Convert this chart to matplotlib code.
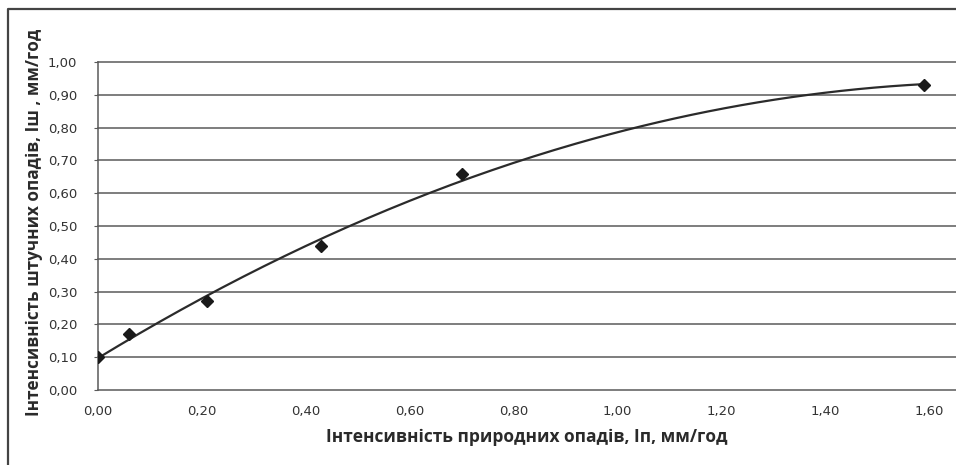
import numpy as np
import matplotlib
matplotlib.use("Agg")
import matplotlib.pyplot as plt
from matplotlib.lines import Line2D
from matplotlib.ticker import FuncFormatter

# natural vs. artificial precipitation intensity, mm/h
natural = [0.00, 0.06, 0.21, 0.43, 0.70, 1.59]
artificial = [0.10, 0.17, 0.27, 0.44, 0.66, 0.93]

x_ticks = [0.0, 0.2, 0.4, 0.6, 0.8, 1.0, 1.2, 1.4, 1.6]
y_ticks = [0.0, 0.1, 0.2, 0.3, 0.4, 0.5, 0.6, 0.7, 0.8, 0.9, 1.0]

x_label = "Інтенсивність природних опадів, Іп, мм/год"
y_label = "Інтенсивність штучних опадів, Іш , мм/год"

W, H = 956, 465
fig = plt.figure(figsize=(W / 100, H / 100), dpi=100)
fig.patch.set_facecolor("white")

ax = fig.add_axes([98 / W, 1 - 390 / H, 1 - 98 / W, (390 - 62) / H])

# second order polynomial trend line
coef = np.polyfit(natural, artificial, 2)
xs = np.linspace(min(natural), max(natural), 200)
ax.plot(xs, np.polyval(coef, xs), color="#2b2b2b", lw=1.6, zorder=3)
ax.plot(natural, artificial, ls="none", marker="D", ms=6, color="#1a1a1a", zorder=4)

ax.set_xlim(0, (W - 98) / ((929 - 98) / 1.6))
ax.set_ylim(0, 1.0)
ax.set_xticks(x_ticks)
ax.set_yticks(y_ticks)
comma = FuncFormatter(lambda v, p: f"{v:.2f}".replace(".", ","))
ax.xaxis.set_major_formatter(comma)
ax.yaxis.set_major_formatter(comma)

ax.yaxis.grid(True, color="#5a5a5a", lw=1.1)
for gl in ax.get_ygridlines():
    gl.set_clip_on(False)
ax.set_axisbelow(True)
for s in ["top", "right", "bottom"]:
    ax.spines[s].set_visible(False)
ax.spines["left"].set_color("#5a5a5a")
ax.spines["left"].set_linewidth(1.1)
ax.tick_params(axis="y", length=3, color="#5a5a5a", labelsize=9.5, labelcolor="#333333", pad=12)
ax.tick_params(axis="x", length=0, labelsize=9.5, labelcolor="#333333", pad=11)

ax.set_xlabel(x_label, fontsize=12.5, fontweight="bold", color="#2a2a2a",
              family="Open Sans", labelpad=7)
fig.text(34 / W, 1 - 222 / H, y_label, rotation=90, ha="center", va="center",
         fontsize=12.3, fontweight="bold", color="#2a2a2a", family="Open Sans")

# outer chart frame
frame = Line2D([8 / W, 8 / W, 1], [0, 1 - 9 / H, 1 - 9 / H],
               transform=fig.transFigure, color="#444444", lw=1.6)
fig.add_artist(frame)

fig.savefig("out.png", dpi=100)
